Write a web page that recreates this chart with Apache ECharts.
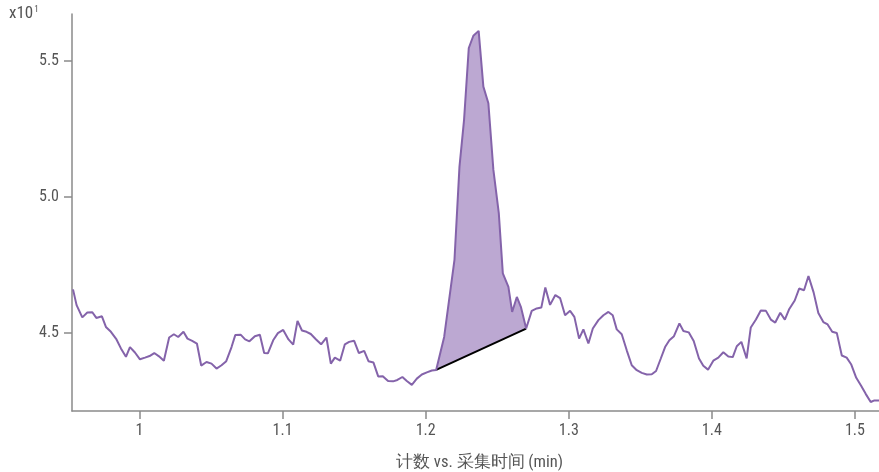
<!DOCTYPE html>
<html>
<head>
<meta charset="utf-8">
<script src="https://cdn.jsdelivr.net/npm/echarts@6/dist/echarts.min.js"></script>
<style>
  html, body { margin: 0; padding: 0; background: #fff; }
  #chart { width: 879px; height: 472px; }
</style>
</head>
<body>
<div id="chart"></div>
<script>
// Acquisition time (min)
const times = [
  0.9535, 0.9560, 0.9600, 0.9635, 0.9670, 0.9698, 0.9737, 0.9765, 0.9800, 0.9839,
  0.9870, 0.9905, 0.9933, 0.9968, 1.0003, 1.0038, 1.0070, 1.0103, 1.0136, 1.0170,
  1.0207, 1.0240, 1.0270, 1.0307, 1.0335, 1.0368, 1.0401, 1.0431, 1.0468, 1.0503,
  1.0538, 1.0573, 1.0606, 1.0643, 1.0669, 1.0708,
  1.0738, 1.0768, 1.0806, 1.0841, 1.0871, 1.0897, 1.0934, 1.0967, 1.1004, 1.1041,
  1.1074, 1.1104, 1.1135, 1.1167, 1.1197, 1.1234, 1.1269, 1.1306, 1.1337, 1.1365,
  1.1402, 1.1435, 1.1465, 1.1500, 1.1533, 1.1570, 1.1600, 1.1635, 1.1668, 1.1700,
  1.1737, 1.1772, 1.1802, 1.1837, 1.1868, 1.1903, 1.1938, 1.1973, 1.2008, 1.2043,
  1.2073,
  1.2129, 1.2201, 1.2236, 1.2268, 1.2301, 1.2333, 1.2370, 1.2403, 1.2438, 1.2473,
  1.2511, 1.2539, 1.2578, 1.2604, 1.2637, 1.2665, 1.2702,
  1.2741, 1.2776, 1.2808, 1.2836, 1.2869, 1.2906, 1.2939, 1.2974, 1.3009, 1.3039,
  1.3072, 1.3102, 1.3137, 1.3168, 1.3207, 1.3242, 1.3277, 1.3307, 1.3335, 1.3370,
  1.3405, 1.3440, 1.3475, 1.3510, 1.3545, 1.3580, 1.3610, 1.3643, 1.3673, 1.3703,
  1.3735, 1.3773, 1.3801, 1.3838, 1.3873, 1.3910, 1.3940, 1.3973, 1.4010, 1.4045,
  1.4080, 1.4115, 1.4146, 1.4174, 1.4206, 1.4243, 1.4272, 1.4308, 1.4342, 1.4378,
  1.4412, 1.4443, 1.4478, 1.4510, 1.4541, 1.4579, 1.4610, 1.4644, 1.4675, 1.4711,
  1.4744, 1.4779, 1.4809, 1.4841, 1.4873, 1.4908, 1.4942, 1.4973, 1.5009, 1.5043,
  1.5075, 1.5110, 1.5136, 1.5168
];

// Counts (x10^1)
const counts = [
  4.660, 4.602, 4.557, 4.575, 4.576, 4.555, 4.561, 4.522, 4.504, 4.476,
  4.443, 4.412, 4.448, 4.428, 4.403, 4.409, 4.415, 4.426, 4.414, 4.398,
  4.483, 4.495, 4.485, 4.504, 4.479, 4.471, 4.461, 4.380, 4.393, 4.387,
  4.369, 4.381, 4.396, 4.448, 4.492, 4.493,
  4.476, 4.469, 4.488, 4.493, 4.426, 4.425, 4.473, 4.499, 4.511, 4.476,
  4.457, 4.544, 4.509, 4.504, 4.496, 4.476, 4.458, 4.483, 4.387, 4.409,
  4.398, 4.458, 4.467, 4.471, 4.426, 4.434, 4.396, 4.391, 4.340, 4.341,
  4.323, 4.322, 4.327, 4.338, 4.323, 4.309, 4.332, 4.347, 4.355, 4.362,
  4.364,
  4.485, 4.768, 5.111, 5.283, 5.547, 5.592, 5.610, 5.405, 5.344, 5.099,
  4.939, 4.719, 4.669, 4.577, 4.632, 4.596, 4.516,
  4.581, 4.590, 4.593, 4.667, 4.603, 4.639, 4.628, 4.565, 4.581, 4.559,
  4.479, 4.513, 4.461, 4.516, 4.547, 4.565, 4.577, 4.565, 4.513, 4.495,
  4.436, 4.381, 4.363, 4.353, 4.347, 4.348, 4.360, 4.406, 4.448, 4.473,
  4.488, 4.535, 4.507, 4.502, 4.470, 4.406, 4.379, 4.365, 4.398, 4.409,
  4.429, 4.413, 4.411, 4.451, 4.467, 4.406, 4.520, 4.549, 4.582, 4.581,
  4.549, 4.538, 4.574, 4.549, 4.588, 4.619, 4.663, 4.657, 4.709, 4.649,
  4.573, 4.540, 4.531, 4.504, 4.500, 4.417, 4.409, 4.385, 4.335, 4.306,
  4.276, 4.246, 4.252, 4.252
];

// Integrated peak window (min)
const peakStart = 1.2073;
const peakEnd = 1.2702;

// Tick positions
const xTicks = [1.0, 1.1, 1.2, 1.3, 1.4, 1.5];
const yTicks = [4.5, 5.0, 5.5];

const lineData = times.map((t, i) => [t, counts[i]]);
const peakData = lineData.filter(p => p[0] >= peakStart - 1e-9 && p[0] <= peakEnd + 1e-9);
const baseline = [peakData[0], peakData[peakData.length - 1]];

const FONT = "'Roboto Condensed', 'Liberation Sans Narrow', Roboto, sans-serif";
const AXIS_GREY = '#8a8a8a';
const TEXT_GREY = '#555555';

const chart = echarts.init(document.getElementById('chart'), null, { renderer: 'canvas' });

chart.setOption({
  animation: false,
  backgroundColor: '#ffffff',
  grid: { left: 72, right: 0, top: 14, bottom: 61, containLabel: false, outerBoundsMode: 'none' },
  xAxis: {
    type: 'value',
    min: 0.9528,
    max: 1.5168,
    name: '计数 vs. 采集时间 (min)',
    nameLocation: 'middle',
    nameGap: 43,
    nameTextStyle: { color: TEXT_GREY, fontSize: 16.5, fontFamily: FONT, padding: [0, 0, 0, 8] },
    axisLine: { show: true, lineStyle: { color: AXIS_GREY, width: 1.5 } },
    axisTick: { show: true, length: 8, customValues: xTicks, lineStyle: { color: AXIS_GREY, width: 1.5 } },
    axisLabel: {
      customValues: xTicks,
      color: TEXT_GREY, fontSize: 16, fontFamily: FONT, margin: 12,
      formatter: v => (Math.abs(v - 1) < 1e-9 ? '1' : String(Math.round(v * 10) / 10))
    },
    splitLine: { show: false }
  },
  yAxis: {
    type: 'value',
    min: 4.213,
    max: 5.672,
    axisLine: { show: true, lineStyle: { color: AXIS_GREY, width: 1.5 } },
    axisTick: { show: true, length: 8, customValues: yTicks, lineStyle: { color: AXIS_GREY, width: 1.5 } },
    axisLabel: {
      customValues: yTicks,
      color: TEXT_GREY, fontSize: 16, fontFamily: FONT, margin: 13,
      formatter: v => v.toFixed(1)
    },
    splitLine: { show: false }
  },
  graphic: [{
    type: 'text',
    left: 9,
    top: 5,
    style: {
      text: '{b|x10}{s|1}',
      rich: {
        b: { fontSize: 17, fontFamily: FONT, fill: TEXT_GREY },
        s: { fontSize: 9, fontFamily: FONT, fill: TEXT_GREY, verticalAlign: 'top', padding: [0, 0, 9, 1] }
      }
    }
  }],
  series: [
    {
      // Shaded peak area bounded by the signal and the straight baseline
      type: 'custom',
      coordinateSystem: 'cartesian2d',
      data: [peakData[0]],
      z: 1,
      silent: true,
      renderItem: function (params, api) {
        const pts = peakData.map(p => api.coord(p));
        return {
          type: 'polygon',
          shape: { points: pts },
          style: { fill: '#bca8d2', stroke: null }
        };
      }
    },
    {
      type: 'line',
      data: baseline,
      symbol: 'none',
      z: 2,
      lineStyle: { color: '#000000', width: 2 }
    },
    {
      type: 'line',
      data: lineData,
      symbol: 'none',
      z: 3,
      lineStyle: { color: '#8463aa', width: 2 }
    }
  ]
});
</script>
</body>
</html>
